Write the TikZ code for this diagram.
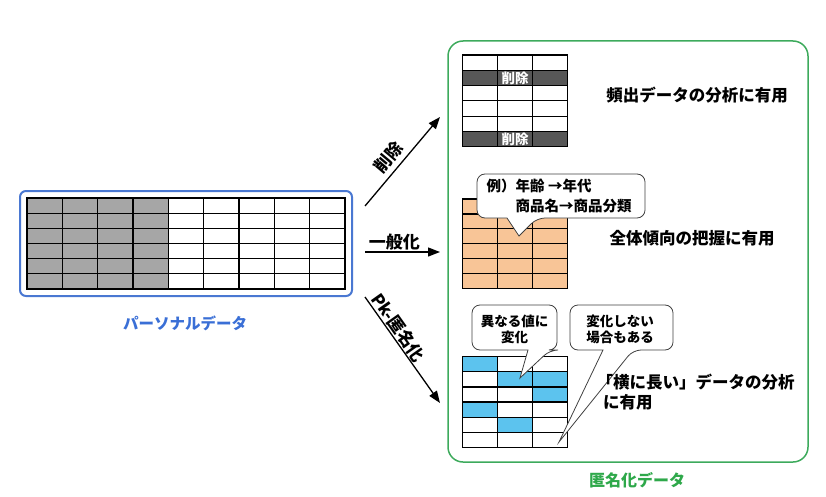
\documentclass[tikz,border=0pt]{standalone}
\usepackage{fontspec}
\newfontfamily\jp{Noto Sans CJK JP}
\usetikzlibrary{arrows.meta,calc}
\definecolor{pblue}{HTML}{4A78D2}
\definecolor{ptext}{HTML}{3A6FD6}
\definecolor{pgreen}{HTML}{3DAA5C}
\definecolor{gtext}{HTML}{2EA84A}
\definecolor{lgray}{HTML}{A6A6A6}
\definecolor{dgray}{HTML}{575757}
\definecolor{orangec}{HTML}{F8C597}
\definecolor{cyanc}{HTML}{5CC3EE}
\newcommand\drawtablegrid[6]{%
  \foreach \i in {0,...,#3} \draw[tbl] ({#1+\i*#5},#2) -- ({#1+\i*#5},{#2+#4*#6});
  \foreach \j in {0,...,#4} \draw[tbl] (#1,{#2+\j*#6}) -- ({#1+#3*#5},{#2+\j*#6});
}
\tikzset{
  tbl/.style={line width=1.2pt, draw=black, line cap=rect},
  flow/.style={line width=1.3pt, -{Triangle[length=12pt,width=9pt]}},
  callout/.style={draw=black!75, fill=white, line width=0.8pt},
  maintext/.style={font=\jp\bfseries\fontsize{16.5}{20}\selectfont, inner sep=0pt},
  arrowlabel/.style={font=\jp\bfseries\fontsize{17}{20}\selectfont, inner sep=1pt},
  bubbletext/.style={font=\jp\bfseries\fontsize{13.5}{16}\selectfont, inner sep=0pt, align=center},
}
\begin{document}
\begin{tikzpicture}[x=1pt,y=-1pt]
\useasboundingbox (0,0) rectangle (826,497);

% ---------- personal data ----------
\node[draw=pblue, line width=2pt, rounded corners=6pt, minimum width=332pt, minimum height=105pt, inner sep=0pt] (pbox) at (186,243.5) {};
\fill[lgray] (27,198) rectangle ({27+4*35.333},289);
\drawtablegrid{27}{198}{9}{6}{35.333}{15.1667}
\node[font=\jp\bfseries\fontsize{15.5}{18}\selectfont, text=ptext] (plabel) at (185,323) {パーソナルデータ};

% ---------- anonymized data box ----------
\node[draw=pgreen, line width=1.5pt, rounded corners=15pt, minimum width=360pt, minimum height=421pt, inner sep=0pt] (gbox) at (628,251.5) {};
\node[font=\jp\bfseries\fontsize{16}{18}\selectfont, text=gtext] (glabel) at (637,480) {匿名化データ};

% ---------- table 1 (deletion) ----------
\fill[dgray] (462.7,{55+1*15.28}) rectangle ++(105,15.28);
\fill[dgray] (462.7,{55+5*15.28}) rectangle ++(105,15.28);
\drawtablegrid{462.7}{55}{3}{6}{35}{15.28}
\node[font=\jp\bfseries\fontsize{13.5}{15}\selectfont, text=white, inner sep=0pt] (del1) at (515.2,{55+1.5*15.28}) {削除};
\node[font=\jp\bfseries\fontsize{13.5}{15}\selectfont, text=white, inner sep=0pt] (del2) at (515.2,{55+5.5*15.28}) {削除};
\node[maintext] (t1) at (697,95) {頻出データの分析に有用};

% ---------- table 2 (generalization) ----------
\fill[orangec] (462.7,199) rectangle ++(105,89.4);
\drawtablegrid{462.7}{199}{3}{6}{35}{14.9}
\draw[callout, rounded corners=8pt] (477,174) -- (645,174) -- (645,218) -- (537,218)
  [sharp corners] -- (519,236) -- (507,218) [rounded corners=8pt] -- (477,218) -- cycle;
\node[font=\jp\bfseries\fontsize{14.5}{20}\selectfont, inner sep=0pt, align=left, anchor=north west] (ex) at (486.5,178.5)
  {例）年齢\ →年代\\\hspace*{2em}商品名→商品分類};
\node[maintext] (t2) at (692,238) {全体傾向の把握に有用};

% ---------- table 3 (PK anonymization) ----------
\foreach \c/\r in {0/0,1/1,2/1,2/2,0/3,1/4}
  \fill[cyanc] ({462.7+\c*35},{356.7+\r*15.1}) rectangle ++(35,15.1);
\drawtablegrid{462.7}{356.7}{3}{6}{35}{15.1}
\draw[callout, rounded corners=8pt] (472,305) -- (557,305) -- (557,350) -- (550,350)
  [sharp corners] -- (520,378) -- (528,350) [rounded corners=8pt] -- (472,350) -- cycle;
\node[bubbletext] (b1) at (514.5,329.5) {異なる値に\\変化};
\draw[callout, rounded corners=8pt] (570,305) -- (673,305) -- (673,350) -- (633,350)
  [sharp corners] -- (559,442) -- (603,350) [rounded corners=8pt] -- (570,350) -- cycle;
\node[bubbletext] (b2) at (620,329.5) {変化しない\\場合もある};
\node[maintext, align=left, anchor=west] (t3) at (603,391.7) {\hspace*{-0.4em}「横に長い」データの分析\\に有用};

% ---------- arrows ----------
\coordinate (a1s) at (365,206);
\coordinate (a1e) at (440,117);
\coordinate (a2s) at (365,252);
\coordinate (a2e) at (440,252);
\coordinate (a3s) at (365,297);
\coordinate (a3e) at (440,403);
\draw[flow] (a1s) -- node[arrowlabel, sloped, above=3pt, pos=0.45] (l1) {削除} (a1e);
\draw[flow] (a2s) -- node[arrowlabel, above=0pt, pos=0.39] (l2) {一般化} (a2e);
\draw[flow] (a3s) -- node[arrowlabel, sloped, above=0pt, pos=0.34] (l3) {Pk-匿名化} (a3e);
\end{tikzpicture}
\end{document}
